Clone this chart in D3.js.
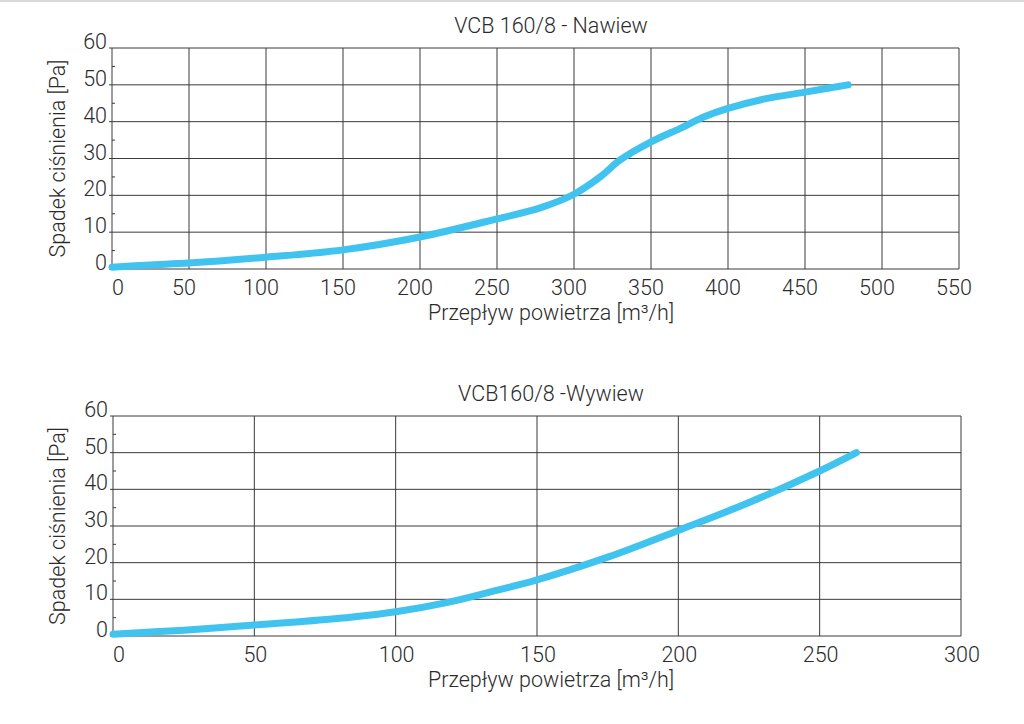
<!DOCTYPE html>
<html lang="pl"><head>
<meta charset="utf-8">
<title>VCB 160/8 - spadek ciśnienia</title>
<script src="https://cdn.jsdelivr.net/npm/d3@7"></script>
<style>
  body { margin: 0; background: #fff; }
  svg { display: block; }
  text { font-family: Roboto, "Open Sans", sans-serif; font-weight: 300; fill: #2b2b2b; }
</style>
</head>
<body>
<svg id="chart" width="1024" height="724"></svg>
<script>
// Nawiew (supply)
const nawiewFlow = [0, 25, 50, 100, 150, 200, 250, 278, 300, 317, 330, 350, 369, 385, 400, 423, 451, 478]
const nawiewDrop = [0.5, 1.1, 1.6, 3.2, 5.2, 8.7, 13.6, 16.6, 20.3, 25, 29.6, 34.5, 38.2, 41.4, 43.6, 46.1, 48.1, 50]
const nawiewTicksX = [0, 50, 100, 150, 200, 250, 300, 350, 400, 450, 500, 550]

// Wywiew (exhaust)
const wywiewFlow = [0, 25, 50, 66, 84, 100, 118, 136, 150, 175, 200, 225, 250, 263]
const wywiewDrop = [0.5, 1.6, 3.0, 3.9, 5.1, 6.6, 9.1, 12.5, 15.3, 21.5, 28.8, 36.4, 45, 50]
const wywiewTicksX = [0, 50, 100, 150, 200, 250, 300]

const ticksY = [0, 10, 20, 30, 40, 50, 60]
const minorY = [5, 15, 25, 35, 45, 55]

const titles = ["VCB 160/8 - Nawiew", "VCB160/8 -Wywiew"]
const xLabel = "Przepływ powietrza [m³/h]"
const yLabel = "Spadek ciśnienia [Pa]"
const fontSize = 21.5

const svg = d3.select("#chart")

// thin grey rule along the top edge
svg.append("line")
  .attr("x1", 0).attr("x2", 1024).attr("y1", 1).attr("y2", 1)
  .attr("stroke", "#d9d9d9").attr("stroke-width", 2)

function drawChart(opts) {
  const g = svg.append("g")
  const x = d3.scaleLinear().domain([0, opts.xMax]).range([opts.left, opts.right])
  const y = d3.scaleLinear().domain([0, 60]).range([opts.bottom, opts.top])

  // vertical grid
  g.selectAll(".vgrid")
    .data(opts.ticksX).enter()
    .append("line")
    .attr("x1", d => x(d)).attr("x2", d => x(d))
    .attr("y1", opts.top).attr("y2", opts.bottom)
    .attr("stroke", "#3a3a3a").attr("stroke-width", 1)

  // horizontal grid, sticking out a little on the left
  g.selectAll(".hgrid")
    .data(ticksY).enter()
    .append("line")
    .attr("x1", opts.left - 3).attr("x2", opts.right)
    .attr("y1", d => y(d)).attr("y2", d => y(d))
    .attr("stroke", "#3a3a3a").attr("stroke-width", 1)

  // small inside ticks between the grid lines
  g.selectAll(".minor")
    .data(minorY).enter()
    .append("line")
    .attr("x1", opts.left).attr("x2", opts.left + 3)
    .attr("y1", d => y(d)).attr("y2", d => y(d))
    .attr("stroke", "#3a3a3a").attr("stroke-width", 1)

  // tick labels
  g.selectAll(".ylab")
    .data(ticksY).enter()
    .append("text")
    .attr("x", opts.left - 5)
    .attr("y", d => y(d) + 1)
    .attr("text-anchor", "end")
    .attr("font-size", fontSize)
    .text(d => d)

  g.selectAll(".xlab")
    .data(opts.ticksX).enter()
    .append("text")
    .attr("x", d => d == 0 ? x(d) : x(d) + opts.labelShift)
    .attr("y", opts.bottom + 26)
    .attr("text-anchor", d => d == 0 ? "start" : "middle")
    .attr("font-size", fontSize)
    .text(d => d)

  // titles
  g.append("text")
    .attr("x", 551).attr("y", opts.top - 15)
    .attr("text-anchor", "middle").attr("font-size", fontSize)
    .text(opts.title)

  g.append("text")
    .attr("x", 551).attr("y", opts.bottom + 51)
    .attr("text-anchor", "middle").attr("font-size", fontSize)
    .text(xLabel)

  g.append("text")
    .attr("transform", `translate(65, ${(opts.top + opts.bottom) / 2}) rotate(-90)`)
    .attr("text-anchor", "middle").attr("font-size", fontSize)
    .text(yLabel)

  // the curve
  const pts = opts.flow.map((f, i) => [f, opts.drop[i]])
  g.append("path")
    .datum(pts)
    .attr("fill", "none")
    .attr("stroke", "#41c3ef")
    .attr("stroke-width", 7)
    .attr("stroke-linecap", "round")
    .attr("stroke-linejoin", "round")
    .attr("d", d3.line()
      .x(d => x(d[0]))
      .y(d => y(d[1]))
      .curve(d3.curveCatmullRom.alpha(0.5)))
}

drawChart({
  left: 112, right: 959, top: 48, bottom: 269, xMax: 550,
  ticksX: nawiewTicksX, flow: nawiewFlow, drop: nawiewDrop,
  title: titles[0], labelShift: -5
})

drawChart({
  left: 113, right: 961, top: 416, bottom: 636, xMax: 300,
  ticksX: wywiewTicksX, flow: wywiewFlow, drop: wywiewDrop,
  title: titles[1], labelShift: 1
})
</script>
</body>
</html>
